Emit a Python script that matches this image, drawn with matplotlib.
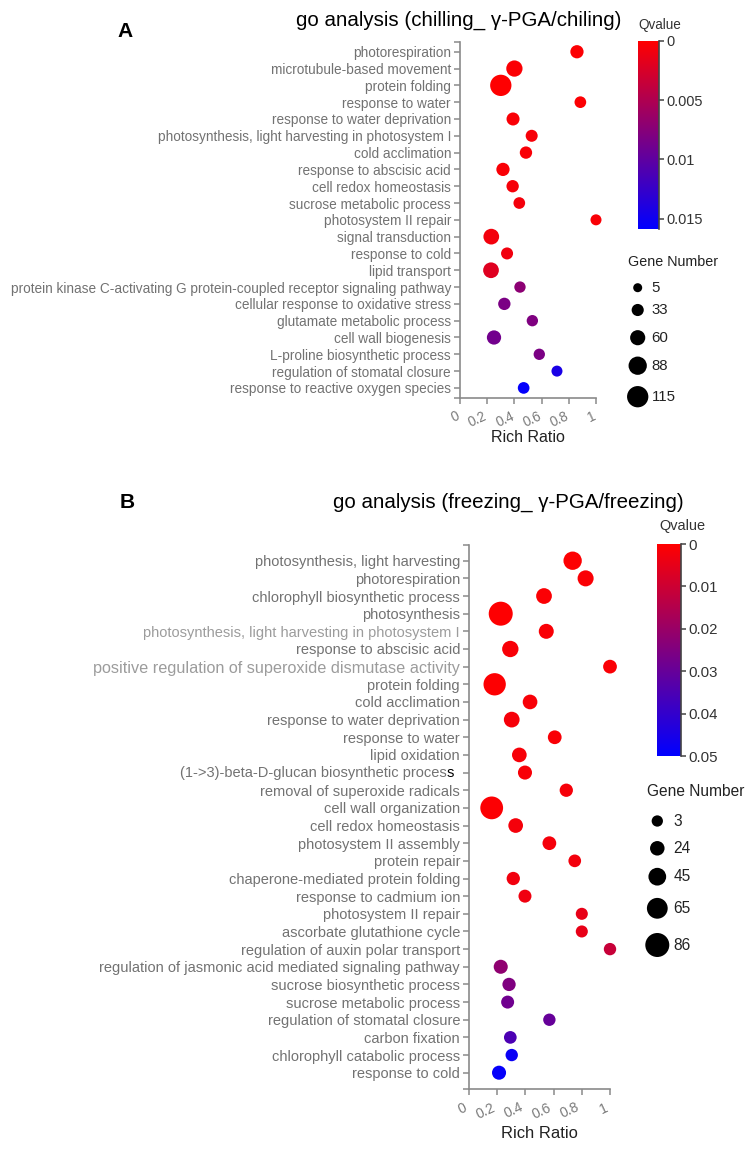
import numpy as np
import matplotlib
matplotlib.use("Agg")
import matplotlib.pyplot as plt
from matplotlib.colors import LinearSegmentedColormap, Normalize
from matplotlib.cm import ScalarMappable
from matplotlib.transforms import ScaledTranslation

W, H, DPI = 755, 1153, 100
plt.rcParams['font.family'] = ['Liberation Sans', 'DejaVu Sans']

def pt(px):
    return px * 72.0 / DPI

# ---- panel A: chilling ----
terms_a = ["photorespiration", "microtubule-based movement", "protein folding",
           "response to water", "response to water deprivation",
           "photosynthesis, light harvesting in photosystem I", "cold acclimation",
           "response to abscisic acid", "cell redox homeostasis",
           "sucrose metabolic process", "photosystem II repair", "signal transduction",
           "response to cold", "lipid transport",
           "protein kinase C-activating G protein-coupled receptor signaling pathway",
           "cellular response to oxidative stress", "glutamate metabolic process",
           "cell wall biogenesis", "L-proline biosynthetic process",
           "regulation of stomatal closure", "response to reactive oxygen species"]
ratio_a = [0.86, 0.40, 0.30, 0.885, 0.39, 0.527, 0.485, 0.316, 0.387, 0.436, 1.0,
           0.23, 0.346, 0.228, 0.441, 0.326, 0.532, 0.25, 0.583, 0.713, 0.468]
genes_a = [43, 70, 115, 29, 41, 32, 35, 43, 35, 29, 23, 65, 32, 65, 26, 35, 26, 52,
           26, 23, 29]
qval_a = [0.0002, 0.0003, 0.0001, 0.0002, 0.0004, 0.0005, 0.0004, 0.0004, 0.0006,
          0.0007, 0.0004, 0.0008, 0.0009, 0.0020, 0.0072, 0.0082, 0.0080, 0.0088,
          0.0082, 0.0143, 0.0156]
legend_a = [5, 33, 60, 88, 115]
cbar_ticks_a = [0, 0.005, 0.01, 0.015]

# ---- panel B: freezing ----
terms_b = ["photosynthesis, light harvesting", "photorespiration",
           "chlorophyll biosynthetic process", "photosynthesis",
           "photosynthesis, light harvesting in photosystem I",
           "response to abscisic acid",
           "positive regulation of superoxide dismutase activity", "protein folding",
           "cold acclimation", "response to water deprivation", "response to water",
           "lipid oxidation", "(1->3)-beta-D-glucan biosynthetic process",
           "removal of superoxide radicals", "cell wall organization",
           "cell redox homeostasis", "photosystem II assembly", "protein repair",
           "chaperone-mediated protein folding", "response to cadmium ion",
           "photosystem II repair", "ascorbate glutathione cycle",
           "regulation of auxin polar transport",
           "regulation of jasmonic acid mediated signaling pathway",
           "sucrose biosynthetic process", "sucrose metabolic process",
           "regulation of stomatal closure", "carbon fixation",
           "chlorophyll catabolic process", "response to cold"]
ratio_b = [0.735, 0.827, 0.532, 0.225, 0.548, 0.293, 1.0, 0.182, 0.433, 0.303, 0.608,
           0.357, 0.397, 0.69, 0.161, 0.331, 0.57, 0.75, 0.314, 0.397, 0.80, 0.80,
           1.0, 0.225, 0.284, 0.274, 0.57, 0.293, 0.303, 0.213]
genes_b = [49, 34, 32, 86, 27, 36, 19, 75, 25, 32, 19, 25, 21, 16, 78, 25, 19, 12, 16,
           14, 8, 8, 10, 21, 16, 14, 10, 12, 10, 21]
qval_b = [0.0005, 0.001, 0.0008, 0.0003, 0.0012, 0.0015, 0.001, 0.0004, 0.0015,
          0.0018, 0.0012, 0.0016, 0.0015, 0.0018, 0.0006, 0.002, 0.002, 0.0025,
          0.0028, 0.003, 0.0045, 0.0045, 0.011, 0.022, 0.025, 0.028, 0.030, 0.035,
          0.048, 0.049]
legend_b = [3, 24, 45, 65, 86]
cbar_ticks_b = [0, 0.01, 0.02, 0.03, 0.04, 0.05]

cmap = LinearSegmentedColormap.from_list("rb", ["#ff0000", "#0000ff"])
LABEL = "#727272"
LIGHT = "#9c9c9c"
AXC = "#8a8a8a"

fig = plt.figure(figsize=(W / DPI, H / DPI), dpi=DPI)


def px_axes(l, t, r, b, **kw):
    return fig.add_axes([l / W, 1 - b / H, (r - l) / W, (b - t) / H], **kw)


def dia_a(n):
    return 9 + (np.asarray(n) - 5) * (21.3 - 9) / 110.0


def dia_b(n):
    return 11.3 + (np.asarray(n) - 3) * (24 - 11.3) / 83.0


def panel(box, terms, ratio, genes, qval, vmax, dia, gaps, lab_px, tick_px, shift):
    ax = px_axes(*box)
    n = len(terms)
    y = np.arange(n)
    norm = Normalize(0, vmax)
    ax.scatter(ratio, y, s=pt(dia(genes)) ** 2, c=qval, cmap=cmap, norm=norm,
               edgecolors="none", clip_on=False, zorder=3)
    ax.set_xlim(0, 1)
    ax.set_ylim(n - 1 + gaps[1], -gaps[0])
    for s in ["top", "right"]:
        ax.spines[s].set_visible(False)
    for s in ["left", "bottom"]:
        ax.spines[s].set_color(AXC)
        ax.spines[s].set_linewidth(1.2)
    ax.set_yticks(y)
    ax.set_yticklabels(terms, fontsize=pt(lab_px), color=LABEL)
    ax.set_yticks([n - 1 + gaps[1], -gaps[0]], minor=True)
    ax.tick_params(axis="y", which="both", length=pt(6), width=1.1, color=AXC, pad=pt(3))
    ax.set_xticks([0, 0.2, 0.4, 0.6, 0.8, 1])
    ax.set_xticklabels(["0", "0.2", "0.4", "0.6", "0.8", "1"], rotation=25,
                       ha="right", va="top", rotation_mode="anchor",
                       fontsize=pt(tick_px), color="#7a7a7a")
    ax.tick_params(axis="x", length=pt(6), width=1.1, color=AXC, pad=pt(5))
    off = ScaledTranslation(-shift / DPI, 0, fig.dpi_scale_trans)
    for lab in ax.get_xticklabels():
        lab.set_transform(lab.get_transform() + off)
    return ax, norm


def cbar(box, norm, ticks, labels, lab_px):
    cax = px_axes(*box)
    cb = fig.colorbar(ScalarMappable(norm=norm, cmap=cmap), cax=cax)
    cb.outline.set_visible(False)
    cax.set_ylim(norm.vmax, 0)
    cb.set_ticks(ticks)
    cb.set_ticklabels(labels)
    cax.tick_params(length=pt(5), width=1.1, color="#444444", labelsize=pt(lab_px),
                    labelcolor="#333333", pad=pt(2))
    cax.plot([1, 1], [0, 1], transform=cax.transAxes, color="#444444", lw=1.2,
             clip_on=False)
    return cax


# panel A
ax_a, norm_a = panel((460, 42, 596, 398), terms_a, ratio_a, genes_a, qval_a, 0.0159,
                     dia_a, (0.58, 0.6), 13.6, 13.5, 4)
cbar((637.7, 40.7, 659.3, 229.3), norm_a, cbar_ticks_a, ["0", "0.005", "0.01", "0.015"],
     14.5)

# panel B
ax_b, norm_b = panel((469, 545, 610, 1089.3), terms_b, ratio_b, genes_b, qval_b, 0.05,
                     dia_b, (0.89, 0.94), 14.6, 14, 6)
cbar((657, 544, 681, 756), norm_b, cbar_ticks_b,
     ["0", "0.01", "0.02", "0.03", "0.04", "0.05"], 15)

# special label styling in panel B
ticklabs = ax_b.get_yticklabels()
for i, t in enumerate(terms_b):
    if t == "photosynthesis, light harvesting in photosystem I":
        ticklabs[i].set_color(LIGHT)
    if t == "positive regulation of superoxide dismutase activity":
        ticklabs[i].set_color(LIGHT)
        ticklabs[i].set_fontsize(pt(16.3))
    if t.startswith("(1->3)"):
        ticklabs[i].set_text("")
        s_txt = ax_b.annotate("s", xy=(0, i), xycoords=("axes fraction", "data"),
                              xytext=(-pt(15), 0), textcoords="offset points",
                              ha="right", va="center", fontsize=pt(14.6), color="black")
        ax_b.annotate(t[:-1], xy=(0, 0), xycoords=s_txt, ha="right", va="bottom",
                      fontsize=pt(14.6), color=LABEL)
ax_b.set_yticklabels(ticklabs)

# overlay for titles, axis labels and size legends (pixel coordinates)
ov = px_axes(0, 0, W, H, zorder=-1)
ov.set_xlim(0, W)
ov.set_ylim(H, 0)
ov.axis("off")

ov.text(125, 31.7, "A", fontsize=pt(21), fontweight="bold", ha="center", va="center")
ov.text(127, 502, "B", fontsize=pt(21), fontweight="bold", ha="center", va="center")
ov.text(459, 20, "go analysis (chilling_ γ-PGA/chiling)", fontsize=pt(20.5),
        ha="center", va="center")
ov.text(508.5, 502, "go analysis (freezing_ γ-PGA/freezing)", fontsize=pt(20.5),
        ha="center", va="center")
ov.text(528, 438, "Rich Ratio", fontsize=pt(16), color="#222222", ha="center",
        va="center")
ov.text(539.5, 1133, "Rich Ratio", fontsize=pt(16.5), color="#222222", ha="center",
        va="center")
ov.text(660, 25, "Qvalue", fontsize=pt(13.5), color="#333333", ha="center",
        va="center")
ov.text(682.5, 526, "Qvalue", fontsize=pt(14.5), color="#333333", ha="center",
        va="center")

# gene number legends
ov.text(673, 261.7, "Gene Number", fontsize=pt(14.3), color="#222222", ha="center",
        va="center")
ly_a = [287.7, 310, 337.7, 365.7, 396.7]
ov.scatter([637.7] * len(legend_a), ly_a, s=pt(dia_a(legend_a)) ** 2, color="black",
           edgecolors="none")
for v, yy in zip(legend_a, ly_a):
    ov.text(651.7, yy, str(v), fontsize=pt(15), color="#222222", ha="left",
            va="center")

ov.text(696, 791.7, "Gene Number", fontsize=pt(15.5), color="#222222", ha="center",
        va="center")
ly_b = [821, 848.3, 876.7, 908.3, 945]
ov.scatter([657.3] * len(legend_b), ly_b, s=pt(dia_b(legend_b)) ** 2, color="black",
           edgecolors="none")
for v, yy in zip(legend_b, ly_b):
    ov.text(673.5, yy, str(v), fontsize=pt(15.5), color="#222222", ha="left",
            va="center")

fig.savefig("out.png", dpi=DPI)
